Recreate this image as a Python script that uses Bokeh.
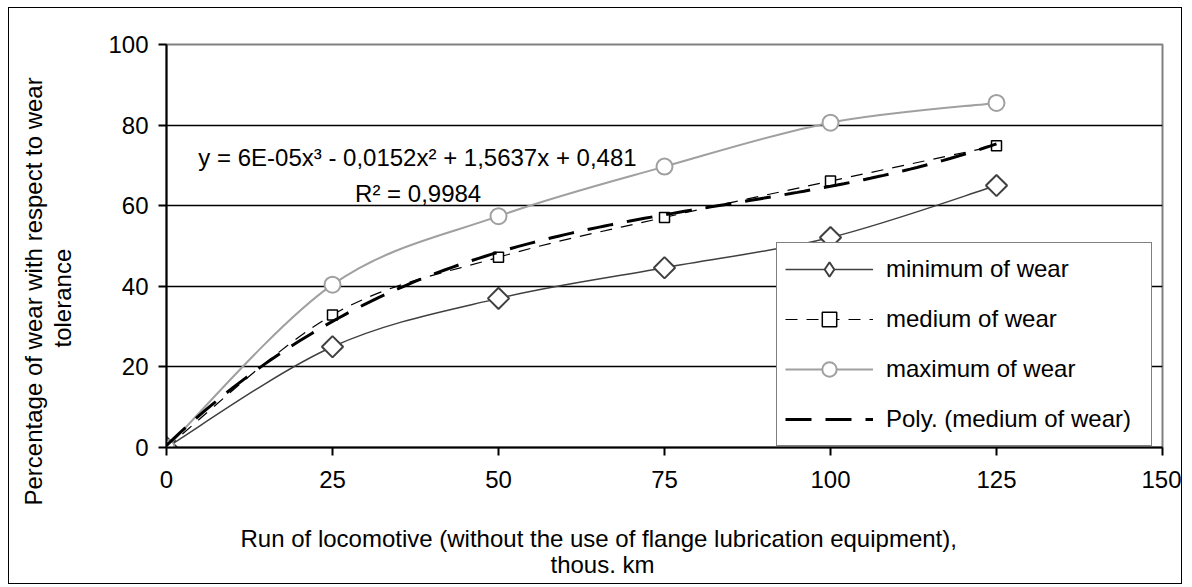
import numpy as np
from bokeh.plotting import figure
from bokeh.models import Range1d, FixedTicker, Label, Legend, LegendItem, ColumnDataSource, Title
from bokeh.embed import file_html
from bokeh.resources import INLINE

# ---------------- data ----------------
run_km = [0, 25, 50, 75, 100, 125]
wear_min = [0.0, 25.0, 37.0, 44.6, 52.1, 65.0]
wear_med = [0.0, 32.9, 47.2, 57.1, 66.1, 74.9]
wear_max = [0.0, 40.4, 57.4, 69.7, 80.6, 85.5]
x_ticks = [0, 25, 50, 75, 100, 125, 150]
y_ticks = [0, 20, 40, 60, 80, 100]
grid_ticks = [20, 40, 60, 80]
series_names = ["minimum of wear", "medium of wear", "maximum of wear", "Poly. (medium of wear)"]
eq_line1 = "y = 6E-05x³ - 0,0152x² + 1,5637x + 0,481"
eq_line2 = "R² = 0,9984"
x_title = ["Run of locomotive (without the use of flange lubrication equipment),", "thous. km"]
y_title = ["Percentage of wear with respect to wear", "tolerance"]

FONT = "Liberation Sans"
FS = "24px"


def smooth_source(xs, ys):
    """Bezier control points (Excel-like smoothed line) through the data points."""
    xs = np.asarray(xs, float)
    ys = np.asarray(ys, float)
    n = len(xs)
    d = dict(x0=[], y0=[], x1=[], y1=[], cx0=[], cy0=[], cx1=[], cy1=[])
    for i in range(n - 1):
        a = max(i - 1, 0)
        b = min(i + 2, n - 1)
        d["x0"].append(xs[i]); d["y0"].append(ys[i])
        d["x1"].append(xs[i + 1]); d["y1"].append(ys[i + 1])
        d["cx0"].append(xs[i] + (xs[i + 1] - xs[a]) / 6.0)
        d["cy0"].append(ys[i] + (ys[i + 1] - ys[a]) / 6.0)
        d["cx1"].append(xs[i + 1] - (xs[b] - xs[i]) / 6.0)
        d["cy1"].append(ys[i + 1] - (ys[b] - ys[i]) / 6.0)
    return ColumnDataSource(d)


p = figure(width=1174, height=577, output_backend="svg", toolbar_location=None,
           x_range=Range1d(0, 150), y_range=Range1d(0, 100),
           min_border_left=157, min_border_right=21, min_border_top=36, min_border_bottom=138)
p.styles = {"border": "1px solid black", "margin-left": "8px", "margin-top": "7px"}
p.background_fill_color = "white"
p.border_fill_color = "white"
p.outline_line_color = "#808080"
p.outline_line_width = 2

# axes
for ax in (p.xaxis, p.yaxis):
    ax.axis_line_color = "black"
    ax.axis_line_width = 2
    ax.major_tick_line_color = "black"
    ax.major_tick_line_width = 2
    ax.major_tick_in = 0
    ax.major_tick_out = 8
    ax.minor_tick_line_color = None
    ax.major_label_text_font = FONT
    ax.major_label_text_font_size = FS
    ax.major_label_text_color = "black"
p.xaxis.ticker = FixedTicker(ticks=x_ticks)
p.yaxis.ticker = FixedTicker(ticks=y_ticks)
p.xaxis.major_label_standoff = 15
p.yaxis.major_label_standoff = 10

p.xgrid.visible = False
p.ygrid.ticker = FixedTicker(ticks=grid_ticks)
p.ygrid.grid_line_color = "black"
p.ygrid.grid_line_width = 1.5

# series
r_min_l = p.bezier(x0="x0", y0="y0", x1="x1", y1="y1", cx0="cx0", cy0="cy0", cx1="cx1", cy1="cy1",
                   source=smooth_source(run_km, wear_min), line_color="#404040", line_width=1.5)
# plain diamond (used for the legend swatch; hidden under the rotated square below)
r_min_leg = p.scatter(run_km, wear_min, marker="diamond", size=12, line_color="#404040",
                      line_width=2, fill_color="white")
r_min_m = p.scatter(run_km, wear_min, marker="square", angle=np.pi / 4, size=15,
                    line_color="#404040", line_width=2, fill_color="white")

r_med_l = p.bezier(x0="x0", y0="y0", x1="x1", y1="y1", cx0="cx0", cy0="cy0", cx1="cx1", cy1="cy1",
                   source=smooth_source(run_km, wear_med), line_color="black", line_width=1.2,
                   line_dash="12 9")
r_med_m = p.scatter(run_km, wear_med, marker="square", size=10,
                    line_color="black", line_width=1.5, fill_color="white")

r_max_l = p.bezier(x0="x0", y0="y0", x1="x1", y1="y1", cx0="cx0", cy0="cy0", cx1="cx1", cy1="cy1",
                   source=smooth_source(run_km, wear_max), line_color="#a0a0a0", line_width=2)
r_max_m = p.scatter(run_km, wear_max, marker="circle", size=16,
                    line_color="#a0a0a0", line_width=2, fill_color="white")

# polynomial (order 3) trend line of the medium series
coef = np.polyfit(run_km, wear_med, 3)
tx = np.linspace(run_km[0], run_km[-1], 126)
r_poly = p.line(tx, np.polyval(coef, tx), line_color="black", line_width=3, line_dash="26 14")

legend = Legend(items=[
    LegendItem(label=series_names[0], renderers=[r_min_l, r_min_leg]),
    LegendItem(label=series_names[1], renderers=[r_med_l, r_med_m]),
    LegendItem(label=series_names[2], renderers=[r_max_l, r_max_m]),
    LegendItem(label=series_names[3], renderers=[r_poly]),
], location=(610, 1))
legend.label_text_font = FONT
legend.label_text_font_size = FS
legend.label_text_color = "black"
legend.border_line_color = "black"
legend.border_line_width = 1.5
legend.background_fill_color = "white"
legend.background_fill_alpha = 1.0
legend.glyph_width = 88
legend.glyph_height = 36
legend.label_height = 24
legend.label_standoff = 13
legend.label_width = 257
legend.padding = 8
legend.spacing = 14
legend.margin = 0
p.add_layout(legend)

# trend line equation (inside the plot area)
for (ex, ey, txt) in ((37.8, 72.0, eq_line1), (37.9, 63.0, eq_line2)):
    p.add_layout(Label(x=ex, y=ey, text=txt, text_align="center", text_baseline="middle",
                       text_font=FONT, text_font_size=FS, text_color="black"))


def add_title(text, side, offset, standoff=0):
    t = Title(text=text, align="left", offset=offset, standoff=standoff, vertical_align="bottom",
              text_font=FONT, text_font_size=FS, text_font_style="normal", text_color="black")
    p.add_layout(t, side)


# axis titles (spacers keep the two-line titles at the reference position)
add_title(" ", "below", 0, 3)
add_title(x_title[0], "below", 74, 0)
add_title(x_title[1], "below", 384, -5)
add_title(" ", "left", 0, 1)
add_title(y_title[1], "left", 100, 0)
add_title(y_title[0], "left", -58, 0)

open("out.html", "w").write(file_html(p, INLINE))
